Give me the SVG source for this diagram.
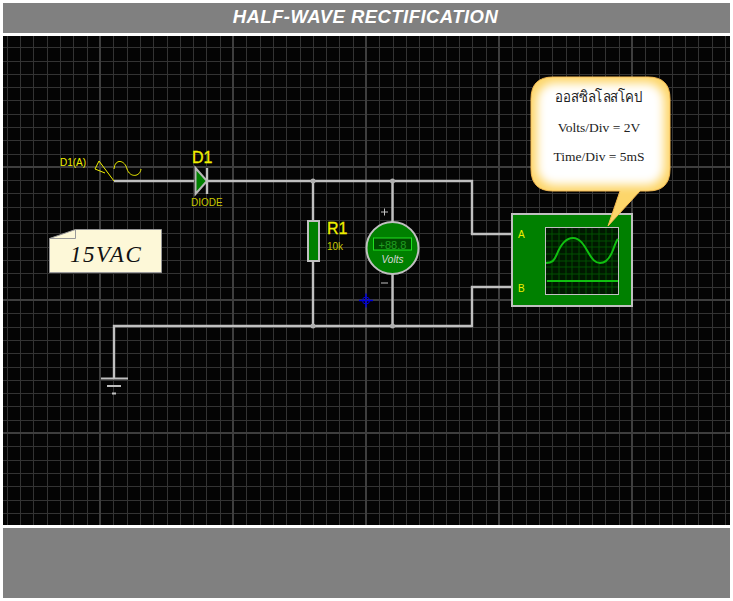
<svg xmlns="http://www.w3.org/2000/svg" width="733" height="601" viewBox="0 0 733 601">
<style>
.minor{stroke:#333;stroke-width:1;fill:none}
.major{stroke:#3e3e3e;stroke-width:2;fill:none}
.wire{stroke:#c0c0c0;stroke-width:2.400;fill:none}
.dot{fill:#b0b0b0}
.sans{font-family:"Liberation Sans",Arial,sans-serif}
.serif{font-family:"Liberation Serif","Times New Roman",serif}
.y{fill:#f0f000}
.dy{fill:#c8c800}
.lab{font-size:10px}
.bt{font-size:13.500px;fill:#222;text-anchor:middle}
</style>
<defs>
<filter id="soft" x="-20%" y="-20%" width="140%" height="140%"><feGaussianBlur stdDeviation="5"/></filter>
<clipPath id="bubClip"><path d="M553 77H648Q670 77 670 99V169Q670 191 648 191H640L608 226L620 191H553Q531 191 531 169V99Q531 77 553 77Z"/></clipPath>
</defs>
<rect width="733" height="601" fill="#fff"/>
<rect x="3" y="3" width="727" height="30" fill="#808080"/>
<rect x="3" y="36" width="727" height="489" fill="#040404"/>
<rect x="3" y="528" width="727" height="70" fill="#808080"/>
<text class="sans" x="365.500" y="22.500" font-size="18.500" font-weight="bold" font-style="italic" letter-spacing="0.450" fill="#fff" text-anchor="middle">HALF-WAVE RECTIFICATION</text>
<g id="grid">
<path class="minor" d="M7.500 36V525M20.500 36V525M33.500 36V525M47.500 36V525M60.500 36V525M73.500 36V525M87.500 36V525M113.500 36V525M127.500 36V525M140.500 36V525M153.500 36V525M167.500 36V525M180.500 36V525M193.500 36V525M206.500 36V525M220.500 36V525M246.500 36V525M260.500 36V525M273.500 36V525M286.500 36V525M300.500 36V525M313.500 36V525M326.500 36V525M339.500 36V525M353.500 36V525M379.500 36V525M393.500 36V525M406.500 36V525M419.500 36V525M433.500 36V525M446.500 36V525M459.500 36V525M472.500 36V525M486.500 36V525M512.500 36V525M526.500 36V525M539.500 36V525M552.500 36V525M566.500 36V525M579.500 36V525M592.500 36V525M605.500 36V525M619.500 36V525M645.500 36V525M659.500 36V525M672.500 36V525M685.500 36V525M698.500 36V525M712.500 36V525M725.500 36V525"/>
<path class="minor" d="M3 47.500H730M3 61.500H730M3 74.500H730M3 87.500H730M3 100.500H730M3 114.500H730M3 127.500H730M3 140.500H730M3 154.500H730M3 180.500H730M3 193.500H730M3 207.500H730M3 220.500H730M3 233.500H730M3 247.500H730M3 260.500H730M3 273.500H730M3 287.500H730M3 313.500H730M3 327.500H730M3 340.500H730M3 353.500H730M3 367.500H730M3 380.500H730M3 393.500H730M3 406.500H730M3 420.500H730M3 446.500H730M3 460.500H730M3 473.500H730M3 486.500H730M3 500.500H730M3 513.500H730"/>
<path class="major" d="M100 36V525M233 36V525M366 36V525M499 36V525M632 36V525M3 167H730M3 300H730M3 433H730"/>
</g>
<g id="connectors">
<path class="wire" d="M114 181H194M207 181H472V234H512"/>
<path class="wire" d="M313 181V326M392.500 181V326"/>
<path class="wire" d="M512 287H472V326H114V378"/>
<circle class="dot" cx="313" cy="181" r="2.500"/><circle class="dot" cx="392.500" cy="181" r="2.500"/>
<circle class="dot" cx="313" cy="326" r="2.500"/><circle class="dot" cx="392.500" cy="326" r="2.500"/>
</g>
<g id="source-D1A">
<text class="sans y lab" x="60" y="166">D1(A)</text>
<path d="M114 181L99 161L95 169L105 173" fill="none" stroke="#f0f000" stroke-width="1"/>
<path d="M114 169C115 158 125 160 127 169C130 178 140 177 141 169" fill="none" stroke="#f0f000" stroke-width="1"/>
</g>
<g id="D1">
<text class="sans y" x="192" y="162.500" font-size="16" stroke="#f0f000" stroke-width="0.300">D1</text>
<path d="M195.500 168L207 181L195.500 194Z" fill="#008000" stroke="#b8b8b8" stroke-width="2"/>
<path d="M207 168V194" class="wire"/>
<text class="sans dy lab" x="191" y="206">DIODE</text>
</g>
<g id="note-15VAC">
<path d="M49.500 238.500L75.500 229.500H161.500V272.500H49.500Z" fill="#fdf8d8" stroke="#999" stroke-width="1"/>
<path d="M49.500 238.500H75.500V229.500" fill="none" stroke="#999" stroke-width="1"/>
<text class="serif" x="70" y="261.500" font-size="23" font-style="italic" letter-spacing="1.500" fill="#111">15VAC</text>
</g>
<g id="R1">
<rect x="308" y="221" width="11" height="40" fill="#008000" stroke="#c0c0c0" stroke-width="2"/>
<text class="sans y" x="327" y="234" font-size="16" stroke="#f0f000" stroke-width="0.300">R1</text>
<text class="sans dy lab" x="327" y="250">10k</text>
</g>
<g id="voltmeter">
<circle cx="392.500" cy="248" r="26" fill="#008000" stroke="#c0c0c0" stroke-width="2"/>
<rect x="373.500" y="238" width="38" height="12" fill="#004a00" stroke="#20e020" stroke-width="1"/>
<text class="sans" x="392.500" y="248.500" font-size="11" fill="#20a020" text-anchor="middle">+88.8</text>
<text class="sans" x="392.500" y="263" font-size="10" font-style="italic" fill="#d8d8d8" text-anchor="middle">Volts</text>
<path d="M381 212H388M384.500 208.500V215.500M381 283H388" fill="none" stroke="#c0c0c0" stroke-width="1"/>
</g>
<g id="marker-origin">
<path d="M359 300.500H373M366 293.500V307.500" fill="none" stroke="#0000d8" stroke-width="1.500"/>
<circle cx="366" cy="300.500" r="3.500" fill="none" stroke="#0000d8" stroke-width="1"/>
</g>
<g id="ground">
<path d="M101 378.500H128M107 386H121M112 393.500H116" fill="none" stroke="#c0c0c0" stroke-width="2"/>
</g>
<g id="oscilloscope">
<rect x="512" y="214" width="120" height="92" fill="#008000" stroke="#c0c0c0" stroke-width="2"/>
<text class="sans y lab" x="518" y="238">A</text>
<text class="sans y lab" x="518" y="292">B</text>
<rect x="545.500" y="227.500" width="73" height="67" fill="#001800" stroke="#c0c0c0" stroke-width="1"/>
<path d="M552 228V294M559 228V294M566 228V294M572 228V294M579 228V294M586 228V294M592 228V294M599 228V294M606 228V294M612 228V294M546 234H618M546 241H618M546 247H618M546 254H618M546 261H618M546 267H618M546 274H618M546 281H618M546 287H618" fill="none" stroke="#005000" stroke-width="1"/>
<path d="M546 263C552 263 554 261 557 254C561 244 566 238 573 238C580 238 584 245 588 252C592 259 595 263 600 263C606 263 610 258 613 250C615 245 616 241 618 239" fill="none" stroke="#10c010" stroke-width="2"/>
<path d="M547 281H618" fill="none" stroke="#10c010" stroke-width="2"/>
</g>
<g id="callout">
<path d="M553 77H648Q670 77 670 99V169Q670 191 648 191H640L608 226L620 191H553Q531 191 531 169V99Q531 77 553 77Z" fill="#fdd66a" stroke="#f5b94e" stroke-width="1"/>
<g clip-path="url(#bubClip)"><rect x="537" y="83" width="127" height="102" rx="18" fill="#fff" filter="url(#soft)"/></g>
<text class="serif" x="599" y="102" font-size="15" fill="#222" text-anchor="middle" textLength="88" lengthAdjust="spacingAndGlyphs">ออสซิลโลสโคป</text>
<text class="serif bt" x="599" y="132">Volts/Div = 2V</text>
<text class="serif bt" x="599" y="161">Time/Div = 5mS</text>
</g>
</svg>
